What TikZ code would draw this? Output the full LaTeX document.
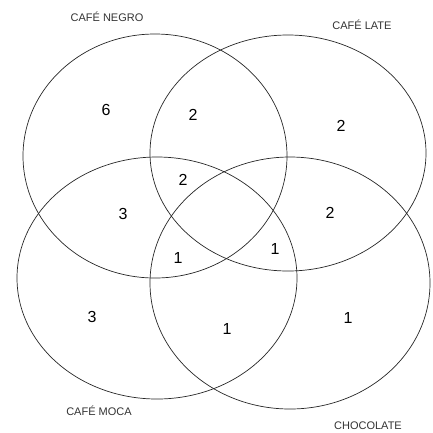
\documentclass[tikz,border=0pt]{standalone}
\usepackage{fontspec}
\setmainfont{Liberation Sans}
\usepackage{tikz}
\tikzset{
  conj/.style={draw=black!85,line width=0.7pt},
  setname/.style={font=\fontsize{11}{12}\selectfont,text=black!80,inner sep=0pt},
  cuenta/.style={font=\fontsize{16}{18}\selectfont,inner sep=0pt}
}

\begin{document}
\begin{tikzpicture}[x=1pt,y=-1pt,line join=round]
\useasboundingbox (0,0) rectangle (433,432);
% --- los cuatro conjuntos
\draw[conj] (155,156) ellipse [x radius=132pt,y radius=122pt];
\draw[conj] (288,153) ellipse [x radius=138pt,y radius=118pt];
\draw[conj] (157,278) ellipse [x radius=140pt,y radius=121pt];
\draw[conj] (290,283) ellipse [x radius=140pt,y radius=126pt];
% --- nombres
\node[setname] (negro) at (107,17) {CAFÉ NEGRO};
\node[setname] (late) at (362,25) {CAFÉ LATE};
\node[setname] (moca) at (99,411) {CAFÉ MOCA};
\node[setname] (choc) at (368,426) {CHOCOLATE};
% --- cantidades por region
\node[cuenta] (n) at (106,110) {6};
\node[cuenta] (nl) at (193,115) {2};
\node[cuenta] (l) at (341,126) {2};
\node[cuenta] (nlm) at (183,180) {2};
\node[cuenta] (nm) at (123,214) {3};
\node[cuenta] (lc) at (330,213) {2};
\node[cuenta] (nmc) at (178,258) {1};
\node[cuenta] (nlc) at (275,249) {1};
\node[cuenta] (m) at (92,317) {3};
\node[cuenta] (mc) at (227,329) {1};
\node[cuenta] (c) at (348,318) {1};
\end{tikzpicture}
\end{document}
